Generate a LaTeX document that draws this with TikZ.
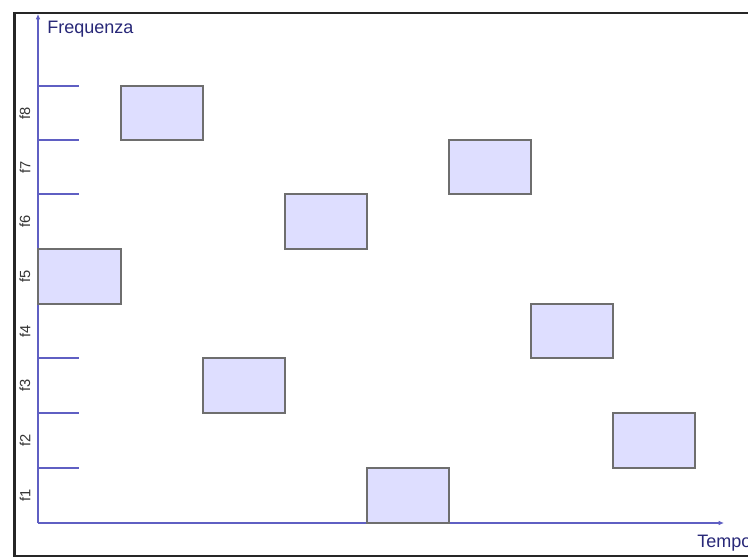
\documentclass[tikz,border=0pt]{standalone}
\usepackage{fontspec}
\setmainfont{Liberation Sans}
\usetikzlibrary{arrows.meta}
\definecolor{axisblue}{RGB}{95,95,195}
\definecolor{labnavy}{RGB}{40,40,120}
\definecolor{slotfill}{RGB}{222,222,255}
\definecolor{slotdraw}{RGB}{110,110,110}
\tikzset{
  axis/.style={draw=axisblue, line width=1.3pt, -{Latex[length=4pt,width=3.5pt]}},
  tick/.style={draw=axisblue, line width=1.1pt},
  slot/.style={fill=slotfill, draw=slotdraw, line width=1.1pt},
  flab/.style={rotate=90, font=\fontsize{11}{12}\selectfont, text=black!80, inner sep=0pt},
  axlab/.style={text=labnavy, font=\fontsize{13.5}{15}\selectfont, inner sep=0pt}
}
\begin{document}
\begin{tikzpicture}[x=0.75pt,y=-0.75pt]
\useasboundingbox (0,0) rectangle (748,559);
\fill[white] (0,0) rectangle (748,559);
% frame
\draw[black!85, line width=2.2pt] (760,13) -- (14.5,13) -- (14.5,556) -- (760,556);
% ticks
\foreach \y in {86,140,194,249,304,358,413,468}
  \draw[tick] (38,\y) -- (79,\y);
% axes
\coordinate (origin) at (38,523);
\coordinate (ytop) at (38,14);
\coordinate (xend) at (724,523);
\draw[axis] (origin) -- (ytop);
\draw[axis] (origin) -- (xend);
\node[axlab, anchor=west] (freq) at (47,29.5) {Frequenza};
\node[axlab, anchor=west] (tempo) at (697,543) {Tempo};
% row labels
\node[flab] (l1) at (25,495.5) {f1};
\node[flab] (l2) at (25,440.5) {f2};
\node[flab] (l3) at (25,385.5) {f3};
\node[flab] (l4) at (25,331) {f4};
\node[flab] (l5) at (25,276.5) {f5};
\node[flab] (l6) at (25,221.5) {f6};
\node[flab] (l7) at (25,167) {f7};
\node[flab] (l8) at (25,113) {f8};
% slots
\draw[slot] (38,249) rectangle (121,304);
\draw[slot] (121,86) rectangle (203,140);
\draw[slot] (203,358) rectangle (285,413);
\draw[slot] (285,194) rectangle (367,249);
\draw[slot] (367,468) rectangle (449,523);
\draw[slot] (449,140) rectangle (531,194);
\draw[slot] (531,304) rectangle (613,358);
\draw[slot] (613,413) rectangle (695,468);
\end{tikzpicture}
\end{document}
